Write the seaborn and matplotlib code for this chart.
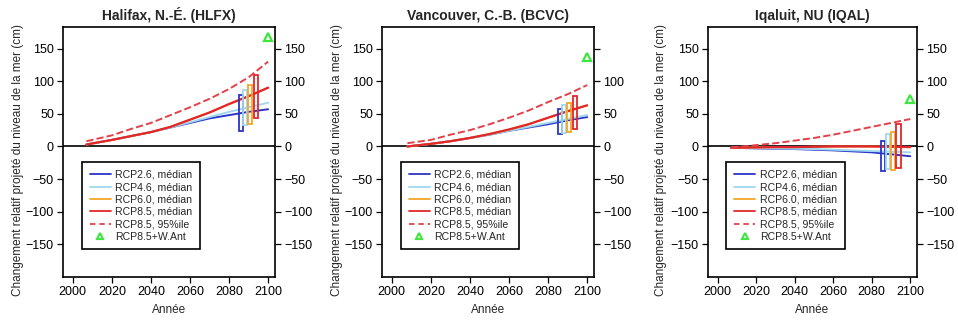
import matplotlib
matplotlib.use("Agg")
import matplotlib.pyplot as plt
from matplotlib.lines import Line2D
import seaborn as sns
import pandas as pd

sns.set_theme(style="ticks")
plt.rcParams['font.family'] = ['Liberation Sans', 'DejaVu Sans']
plt.rcParams['axes.unicode_minus'] = True

# ---------------- data ----------------
titles = ["Halifax, N.-É. (HLFX)", "Vancouver, C.-B. (BCVC)", "Iqaluit, NU (IQAL)"]
scenarios = ["RCP2.6, médian", "RCP4.6, médian", "RCP6.0, médian", "RCP8.5, médian", "RCP8.5, 95%ile", "RCP8.5+W.Ant"]

years_hlfx = [2007, 2020, 2030, 2040, 2050, 2060, 2070, 2080, 2090, 2100]
years_bcvc = [2008, 2020, 2030, 2040, 2050, 2060, 2070, 2080, 2090, 2100]
years_iqal = [2007, 2020, 2030, 2040, 2050, 2060, 2070, 2080, 2090, 2100]

hlfx_rcp26 = [3, 10, 16, 22, 29, 36, 43, 48, 53, 57]
hlfx_rcp45 = [3, 10, 16, 22, 29, 37, 45, 53, 60, 67]
hlfx_rcp60 = [3, 10, 16, 22, 30, 41, 52, 65, 77, 90]
hlfx_rcp85 = [3, 10, 16, 22, 30, 41, 52, 65, 77, 90]
hlfx_p95 = [8, 17, 27, 36, 48, 60, 73, 88, 106, 130]
hlfx_want = 167

bcvc_rcp26 = [0, 4, 8, 13, 18, 24, 29, 34, 40, 45]
bcvc_rcp45 = [0, 4, 8, 13, 18, 24, 30, 36, 42, 48]
bcvc_rcp60 = [0, 4, 8, 13, 19, 26, 34, 44, 54, 63]
bcvc_rcp85 = [0, 4, 8, 13, 19, 26, 34, 44, 54, 63]
bcvc_p95 = [5, 10, 18, 25, 34, 44, 55, 68, 80, 94]
bcvc_want = 137

iqal_rcp26 = [-2, -3, -3.5, -4, -5, -6, -7.5, -9, -12, -15]
iqal_rcp45 = [-2, -2.5, -3, -3.5, -4, -5, -6, -7, -8, -9]
iqal_rcp60 = [-2, -1.5, -1, -1, -0.5, 0, 0, 0, -0.5, -1]
iqal_rcp85 = [-2, -1.5, -1, -1, -0.5, 0, 0, 0, -0.5, -1]
iqal_p95 = [-1.5, 2, 5, 9, 13, 18, 24, 30, 36, 42]
iqal_want = 73

# 2100 range boxes (RCP2.6, RCP4.6, RCP6.0, RCP8.5)
box_years = [2086, 2088.2, 2090.8, 2093.9]
hlfx_box_low = [23, 33, 34, 44]
hlfx_box_high = [79, 87, 94, 110]
bcvc_box_low = [19, 21, 22, 26]
bcvc_box_high = [58, 63, 66, 78]
iqal_box_low = [-38, -35, -36, -33]
iqal_box_high = [9, 19, 22, 34]

yticks = [-150, -100, -50, 0, 50, 100, 150]
xticks = [2000, 2020, 2040, 2060, 2080, 2100]

sites = [
    dict(years=years_hlfx, lines=[hlfx_rcp26, hlfx_rcp45, hlfx_rcp60, hlfx_rcp85, hlfx_p95],
         want=hlfx_want, low=hlfx_box_low, high=hlfx_box_high, right_labels=yticks),
    dict(years=years_bcvc, lines=[bcvc_rcp26, bcvc_rcp45, bcvc_rcp60, bcvc_rcp85, bcvc_p95],
         want=bcvc_want, low=bcvc_box_low, high=bcvc_box_high, right_labels=yticks[:-1]),
    dict(years=years_iqal, lines=[iqal_rcp26, iqal_rcp45, iqal_rcp60, iqal_rcp85, iqal_p95],
         want=iqal_want, low=iqal_box_low, high=iqal_box_high, right_labels=yticks),
]

colors = ["#2b35c8", "#9fd8ee", "#f4a626", "#e3262b", "#e3414a"]
green = "#3ee63e"
draw_order = [2, 0, 1, 3, 4]

fig = plt.figure(figsize=(9.58, 3.25), dpi=100)
axes_pos = [
    [63 / 958, 1 - 277 / 325, 212 / 958, 250 / 325],
    [382 / 958, 1 - 277 / 325, 212 / 958, 250 / 325],
    [708 / 958, 1 - 277 / 325, 209 / 958, 250 / 325],
]
label_x = [-0.185, -0.185, -0.195]

def fmt(v):
    return str(v).replace("-", "\u2212")

for i, site in enumerate(sites):
    ax = fig.add_axes(axes_pos[i])
    ax.set_facecolor("white")
    ax.axhline(0, color="black", lw=1.2, zorder=1)
    for k in draw_order:
        df = pd.DataFrame({"Année": site["years"], "val": site["lines"][k]})
        sns.lineplot(data=df, x="Année", y="val", ax=ax, color=colors[k],
                     lw=1.6 if k == 3 else 1.4,
                     linestyle="--" if k == 4 else "-",
                     dashes=(3.2, 2.2) if k == 4 else (None, None), zorder=2 + k)
    hts = [h - l for h, l in zip(site["high"], site["low"])]
    ax.bar(box_years, hts, bottom=site["low"], width=2.1, fill=False,
           edgecolor=colors[:4], linewidth=1.3, zorder=8)
    ax.plot([2100], [site["want"]], marker="^", ms=6, mfc="none", mec=green,
            mew=1.6, ls="none", zorder=9)

    ax.set_xlim(1995, 2103.5)
    ax.set_ylim(-200, 183)
    ax.set_xticks(xticks)
    ax.set_yticks(yticks)
    ax.set_yticklabels([fmt(v) for v in yticks])
    ax.set_xticklabels([str(v) for v in xticks])
    ax.tick_params(axis="both", direction="out", length=4.5, width=0.9, pad=2,
                   labelsize=9, colors="black", right=True)
    for s in ax.spines.values():
        s.set_visible(True)
        s.set_color("black")
        s.set_linewidth(1.2)
    ax.set_xlabel("Année", fontsize=8.5, labelpad=4)
    ax.set_ylabel("Changement relatif projeté du niveau de la mer (cm)", fontsize=8.5, labelpad=2)
    ax.yaxis.set_label_coords(label_x[i], 0.47)
    ax.set_title(titles[i], fontsize=10, fontweight="bold", pad=5)

    ax2 = ax.twinx()
    ax2.set_ylim(ax.get_ylim())
    ax2.set_yticks(yticks)
    ax2.set_yticklabels([fmt(v) if v in site["right_labels"] else "" for v in yticks])
    ax2.tick_params(axis="y", direction="out", length=4.5, width=0.9, pad=2,
                    labelsize=9, colors="black")
    for s in ax2.spines.values():
        s.set_visible(False)

    handles = [Line2D([], [], color=colors[k], lw=1.3) for k in range(4)]
    handles.append(Line2D([], [], color=colors[4], lw=1.3, ls=(0, (3, 2.2))))
    handles.append(Line2D([], [], marker="^", ms=5, mfc="none", mec=green, mew=1.5, ls="none"))
    leg = ax.legend(handles, scenarios, loc="upper left", bbox_to_anchor=(0.088, 0.46),
                    fontsize=7.6, frameon=True, fancybox=False, framealpha=1,
                    edgecolor="black", borderpad=0.75, labelspacing=0.22,
                    handlelength=2.0, handletextpad=0.45, borderaxespad=0)
    leg.get_frame().set_linewidth(1.2)
    leg.set_zorder(20)

fig.savefig("out.png", dpi=100)
